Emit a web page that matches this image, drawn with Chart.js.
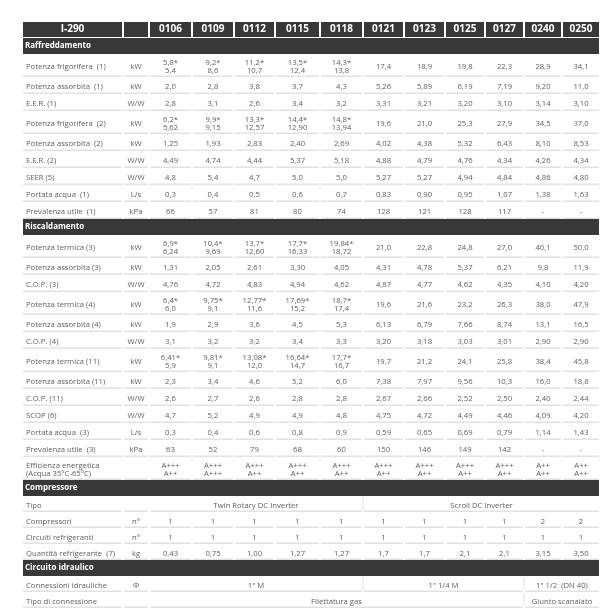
<!DOCTYPE html>
<html>
<head>
<meta charset="utf-8">
<style>
  html, body { margin: 0; padding: 0; background: #fff; }
  #wrap { width: 610px; height: 612px; }
</style>
<script src="https://cdn.jsdelivr.net/npm/chart.js@4.4.1/dist/chart.umd.min.js"></script>
</head>
<body>
<div id="wrap"><canvas id="specChart" width="610" height="612"></canvas></div>
<script>
// ---- table content ----
const tableTitle = 'I-290';
const models = ['0106', '0109', '0112', '0115', '0118', '0121', '0123', '0125', '0127', '0240', '0250'];

const coolingLabels = ['Potenza frigorifera  (1)', 'Potenza assorbita  (1)', 'E.E.R. (1)', 'Potenza frigorifera  (2)',
    'Potenza assorbita  (2)', 'E.E.R. (2)', 'SEER (5)', 'Portata acqua  (1)', 'Prevalenza utile  (1)'];
const coolingUnits = ['kW', 'kW', 'W/W', 'kW', 'kW', 'W/W', 'W/W', 'L/s', 'kPa'];
const coolingValues = [
    ['5,8*\n5,4', '9,2*\n8,6', '11,2*\n10,7', '13,5*\n12,4', '14,3*\n13,8', '17,4', '18,9', '19,8', '22,3', '28,9', '34,1'],
    ['2,0', '2,8', '3,8', '3,7', '4,3', '5,26', '5,89', '6,19', '7,19', '9,20', '11,0'],
    ['2,8', '3,1', '2,6', '3,4', '3,2', '3,31', '3,21', '3,20', '3,10', '3,14', '3,10'],
    ['6,2*\n5,62', '9,9*\n9,15', '13,3*\n12,57', '14,4*\n12,90', '14,8*\n13,94', '19,6', '21,0', '25,3', '27,9', '34,5', '37,0'],
    ['1,25', '1,93', '2,83', '2,40', '2,69', '4,02', '4,38', '5,32', '6,43', '8,10', '8,53'],
    ['4,49', '4,74', '4,44', '5,37', '5,18', '4,88', '4,79', '4,76', '4,34', '4,26', '4,34'],
    ['4,8', '5,4', '4,7', '5,0', '5,0', '5,27', '5,27', '4,94', '4,84', '4,86', '4,80'],
    ['0,3', '0,4', '0,5', '0,6', '0,7', '0,83', '0,90', '0,95', '1,07', '1,38', '1,63'],
    ['66', '57', '81', '80', '74', '128', '121', '128', '117', '-', '-']
];

const heatingLabels = ['Potenza termica (3)', 'Potenza assorbita (3)', 'C.O.P. (3)', 'Potenza termica (4)',
    'Potenza assorbita (4)', 'C.O.P. (4)', 'Potenza termica (11)', 'Potenza assorbita (11)', 'C.O.P. (11)',
    'SCOP (6)', 'Portata acqua  (3)', 'Prevalenza utile  (3)', 'Efficienza energetica\n(Acqua 35°C-65°C)'];
const heatingUnits = ['kW', 'kW', 'W/W', 'kW', 'kW', 'W/W', 'kW', 'kW', 'W/W', 'W/W', 'L/s', 'kPa', ''];
const heatingValues = [
    ['6,9*\n6,24', '10,4*\n9,69', '13,7*\n12,60', '17,7*\n16,33', '19,84*\n18,72', '21,0', '22,8', '24,8', '27,0', '40,1', '50,0'],
    ['1,31', '2,05', '2,61', '3,30', '4,05', '4,31', '4,78', '5,37', '6,21', '9,8', '11,9'],
    ['4,76', '4,72', '4,83', '4,94', '4,62', '4,87', '4,77', '4,62', '4,35', '4,10', '4,20'],
    ['6,4*\n6,0', '9,75*\n9,1', '12,77*\n11,6', '17,69*\n15,2', '18,7*\n17,4', '19,6', '21,6', '23,2', '26,3', '38,0', '47,9'],
    ['1,9', '2,9', '3,6', '4,5', '5,3', '6,13', '6,79', '7,66', '8,74', '13,1', '16,5'],
    ['3,1', '3,2', '3,2', '3,4', '3,3', '3,20', '3,18', '3,03', '3,01', '2,90', '2,90'],
    ['6,41*\n5,9', '9,81*\n9,1', '13,08*\n12,0', '16,64*\n14,7', '17,7*\n16,7', '19,7', '21,2', '24,1', '25,8', '38,4', '45,8'],
    ['2,3', '3,4', '4,6', '5,2', '6,0', '7,38', '7,97', '9,56', '10,3', '16,0', '18,8'],
    ['2,6', '2,7', '2,6', '2,8', '2,8', '2,67', '2,66', '2,52', '2,50', '2,40', '2,44'],
    ['4,7', '5,2', '4,9', '4,9', '4,8', '4,75', '4,72', '4,49', '4,46', '4,09', '4,20'],
    ['0,3', '0,4', '0,6', '0,8', '0,9', '0,59', '0,65', '0,69', '0,79', '1,14', '1,43'],
    ['63', '52', '79', '68', '60', '150', '146', '149', '142', '-', '-'],
    ['A+++\nA++', 'A+++\nA+++', 'A+++\nA++', 'A+++\nA++', 'A+++\nA++', 'A+++\nA++', 'A+++\nA++', 'A+++\nA++', 'A+++\nA++', 'A++\nA++', 'A++\nA++']
];

// merged cells are written as [text, number of columns]
const compressorLabels = ['Tipo', 'Compressori', 'Circuiti refrigeranti', 'Quantità refrigerante  (7)'];
const compressorUnits = ['', 'n°', 'n°', 'kg'];
const compressorValues = [
    [['Twin Rotary DC Inverter', 5], ['Scroll DC Inverter', 6]],
    ['1', '1', '1', '1', '1', '1', '1', '1', '1', '2', '2'],
    ['1', '1', '1', '1', '1', '1', '1', '1', '1', '1', '1'],
    ['0,43', '0,75', '1,00', '1,27', '1,27', '1,7', '1,7', '2,1', '2,1', '3,15', '3,50']
];

const hydraulicLabels = ['Connessioni idrauliche', 'Tipo di connessione'];
const hydraulicUnits = ['Φ', ''];
const hydraulicValues = [
    [['1" M', 5], ['1" 1/4 M', 4], ['1" 1/2  (DN 40)', 2]],
    [['Filettatura gas', 9], ['Giunto scanalato', 2]]
];

const sections = [
    { title: 'Raffreddamento', labels: coolingLabels, units: coolingUnits, values: coolingValues, rowH: 17 },
    { title: 'Riscaldamento', labels: heatingLabels, units: heatingUnits, values: heatingValues, rowH: 17 },
    { title: 'Compressore', labels: compressorLabels, units: compressorUnits, values: compressorValues, rowH: 16 },
    { title: 'Circuito idraulico', labels: hydraulicLabels, units: hydraulicUnits, values: hydraulicValues, rowH: 16 }
];

// ---- layout / style ----
const COL_W = [101, 26, 43, 42, 41, 45, 43, 41, 41, 40, 39, 38, 38];
const HEAD_H = 15, SECTION_H = 16, DOUBLE_H = 23, HEAD_GAP = 1;
const GAP = 1, PAD_LEFT = 4, TEXT_SHIFT = 1.5, LINE_H = 7.5;
const DARK = '#383838', RULE = '#e2e2e2', INK = '#5e5e5e';
const FONTS = {
    head: "bold 10px 'Open Sans', sans-serif",
    section: "bold 8px 'Open Sans', sans-serif",
    body: "7.7px 'Open Sans', sans-serif"
};

const colEdges = [0];
COL_W.forEach(w => colEdges.push(colEdges[colEdges.length - 1] + w));
const tableW = colEdges[colEdges.length - 1];

// rows with their vertical extent in table units
const rows = [];
let cursor = 0;
rows.push({ kind: 'head', top: cursor, h: HEAD_H });
cursor += HEAD_H + HEAD_GAP;
sections.forEach(sec => {
    rows.push({ kind: 'section', top: cursor, h: SECTION_H, title: sec.title });
    cursor += SECTION_H;
    sec.labels.forEach((lab, i) => {
        const vals = sec.values[i];
        const spans = vals.map(v => Array.isArray(v) ? { text: v[0], n: v[1] } : { text: v, n: 1 });
        const isDouble = lab.includes('\n') || spans.some(s => s.text.includes('\n'));
        const h = isDouble ? DOUBLE_H : sec.rowH;
        rows.push({ kind: 'data', top: cursor, h, label: lab, unit: sec.units[i], spans });
        cursor += h;
    });
});

// text marks placed as points on the chart scales
const marks = [];
rows.forEach(r => {
    const cy = r.top + r.h / 2;
    if (r.kind === 'head') {
        marks.push({ x: COL_W[0] / 2, y: cy, text: tableTitle, role: 'head', align: 'center' });
        models.forEach((m, i) => marks.push({ x: (colEdges[i + 2] + colEdges[i + 3]) / 2, y: cy, text: m, role: 'head', align: 'center' }));
    } else if (r.kind === 'section') {
        marks.push({ x: 3, y: cy, text: r.title, role: 'section', align: 'left' });
    } else {
        const ty = cy + TEXT_SHIFT;
        marks.push({ x: PAD_LEFT, y: ty, text: r.label, role: 'body', align: 'left' });
        if (r.unit) marks.push({ x: (colEdges[1] + colEdges[2]) / 2, y: ty, text: r.unit, role: 'body', align: 'center' });
        let c = 2;
        r.spans.forEach(s => {
            marks.push({ x: (colEdges[c] + colEdges[c + s.n]) / 2, y: ty, text: s.text, role: 'body', align: 'center' });
            c += s.n;
        });
    }
});

const tablePlugin = {
    id: 'specTable',
    beforeDatasetsDraw(chart) {
        const { ctx, scales: { x, y } } = chart;
        const px = v => x.getPixelForValue(v);
        const py = v => y.getPixelForValue(v);
        ctx.save();
        rows.forEach(r => {
            const t = py(r.top), b = py(r.top + r.h);
            if (r.kind === 'head') {
                ctx.fillStyle = DARK;
                for (let c = 0; c < COL_W.length; c++) {
                    ctx.fillRect(px(colEdges[c] + GAP), t, px(colEdges[c + 1] - GAP) - px(colEdges[c] + GAP), b - t);
                }
            } else if (r.kind === 'section') {
                ctx.fillStyle = DARK;
                ctx.fillRect(px(colEdges[0] + GAP), t, px(tableW - GAP) - px(colEdges[0] + GAP), b - t);
            } else {
                // bottom rule of each (possibly merged) cell
                const bounds = [[0, 1], [1, 2]];
                let c = 2;
                r.spans.forEach(s => { bounds.push([c, c + s.n]); c += s.n; });
                ctx.fillStyle = RULE;
                bounds.forEach(([a, e]) => {
                    const l = px(colEdges[a] + GAP), rr = px(colEdges[e] - GAP);
                    ctx.fillRect(l, b - 1.5, rr - l, 1.5);
                });
                // thin divider between merged blocks
                if (r.spans.some(s => s.n > 1)) {
                    let k = 2;
                    r.spans.forEach((s, i) => {
                        if (i > 0) ctx.fillRect(px(colEdges[k]) - 0.5, t + 1, 1, b - t - 3);
                        k += s.n;
                    });
                }
            }
        });
        ctx.restore();
    },
    afterDatasetsDraw(chart) {
        const { ctx } = chart;
        const meta = chart.getDatasetMeta(0);
        const data = chart.data.datasets[0].data;
        ctx.save();
        ctx.textBaseline = 'middle';
        meta.data.forEach((pt, i) => {
            const m = data[i];
            ctx.font = FONTS[m.role];
            ctx.fillStyle = m.role === 'body' ? INK : '#ffffff';
            ctx.textAlign = m.align;
            const lines = m.text.split('\n');
            lines.forEach((ln, k) => {
                ctx.fillText(ln, pt.x, pt.y + (k - (lines.length - 1) / 2) * LINE_H);
            });
        });
        ctx.restore();
    }
};

new Chart(document.getElementById('specChart'), {
    type: 'scatter',
    data: { datasets: [{ data: marks, pointRadius: 0, pointHoverRadius: 0, showLine: false }] },
    options: {
        responsive: false,
        animation: false,
        events: [],
        layout: { padding: { left: 22, right: 10, top: 22, bottom: 0 } },
        scales: {
            x: { type: 'linear', display: false, min: 0, max: tableW },
            y: { type: 'linear', display: false, min: 0, max: 590, reverse: true }
        },
        plugins: { legend: { display: false }, tooltip: { enabled: false } }
    },
    plugins: [tablePlugin]
});
</script>
</body>
</html>
